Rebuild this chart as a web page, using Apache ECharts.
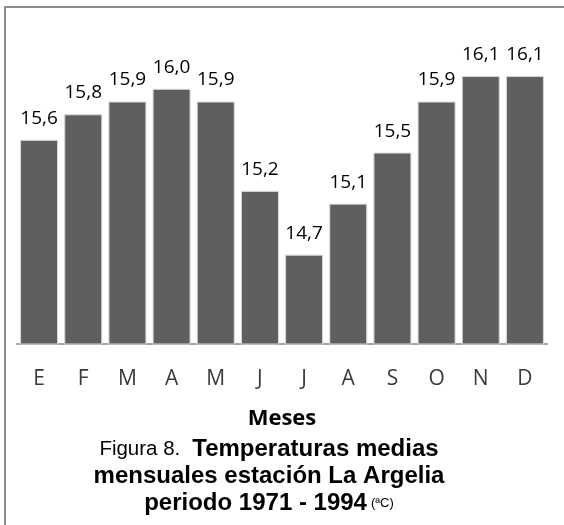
<!DOCTYPE html>
<html>
<head>
<meta charset="utf-8">
<script src="https://cdn.jsdelivr.net/npm/echarts@6/dist/echarts.min.js"></script>
<style>
  html, body { margin: 0; padding: 0; background: #ffffff; }
  #chart { width: 564px; height: 525px; }
</style>
</head>
<body>
<div id="chart"></div>
<script>
// Monthly mean temperatures, La Argelia station, 1971-1994
const months = ['E', 'F', 'M', 'A', 'M', 'J', 'J', 'A', 'S', 'O', 'N', 'D'];
const temperatures = [15.6, 15.8, 15.9, 16.0, 15.9, 15.2, 14.7, 15.1, 15.5, 15.9, 16.1, 16.1];
const axisName = 'Meses';
const figureLabel = 'Figura 8.';
const captionLine1 = 'Temperaturas medias';
const captionLine2 = 'mensuales estación La Argelia';
const captionLine3 = 'periodo 1971 - 1994';
const unitLabel = '(ªC)';

const captionFont = 'Liberation Sans, Arial, sans-serif';
const captionX = 269;

const chart = echarts.init(document.getElementById('chart'), null, { renderer: 'canvas' });

const option = {
  backgroundColor: '#ffffff',
  animation: false,
  grid: { left: 17, right: 17, top: 25, bottom: 181, containLabel: false },
  xAxis: {
    type: 'category',
    data: months,
    axisLine: { show: true, lineStyle: { color: '#a6a6a6', width: 2 } },
    axisTick: { show: false },
    axisLabel: {
      margin: 25,
      fontFamily: 'Open Sans',
      fontSize: 21,
      color: '#3a3a3a'
    }
  },
  yAxis: {
    type: 'value',
    min: 14,
    max: 16.5,
    show: false,
    splitLine: { show: false }
  },
  series: [{
    type: 'bar',
    data: temperatures,
    barCategoryGap: '14%',
    itemStyle: { color: '#5f5f5f', borderColor: '#d6d6d6', borderWidth: 1 },
    label: {
      show: true,
      position: 'top',
      distance: 12,
      fontFamily: 'Open Sans',
      fontSize: 19,
      color: '#000000',
      formatter: p => p.value.toFixed(1).replace('.', ',')
    }
  }],
  graphic: [
    {
      type: 'rect',
      shape: { x: 5, y: 7, width: 600, height: 600 },
      style: { fill: 'none', stroke: '#8c8c8c', lineWidth: 2 },
      silent: true
    },
    {
      type: 'text',
      x: 282,
      y: 419,
      style: {
        text: axisName,
        align: 'center',
        verticalAlign: 'middle',
        fontFamily: 'Open Sans',
        fontWeight: 'bold',
        fontSize: 22,
        fill: '#000000'
      }
    },
    {
      type: 'text',
      x: captionX,
      y: 449.5,
      style: {
        text: '{s|' + figureLabel + '}{b|' + captionLine1 + '}',
        align: 'center',
        verticalAlign: 'middle',
        fill: '#000000',
        rich: {
          s: { fontFamily: captionFont, fontSize: 20.5, padding: [0, 12, 0, 0] },
          b: { fontFamily: captionFont, fontWeight: 'bold', fontSize: 24 }
        }
      }
    },
    {
      type: 'text',
      x: captionX,
      y: 476.5,
      style: {
        text: captionLine2,
        align: 'center',
        verticalAlign: 'middle',
        fontFamily: captionFont,
        fontWeight: 'bold',
        fontSize: 24,
        fill: '#000000'
      }
    },
    {
      type: 'text',
      x: captionX,
      y: 503.5,
      style: {
        text: '{b|' + captionLine3 + '}{c|' + unitLabel + '}',
        align: 'center',
        verticalAlign: 'middle',
        fill: '#000000',
        rich: {
          b: { fontFamily: captionFont, fontWeight: 'bold', fontSize: 24, padding: [0, 4, 0, 0] },
          c: { fontFamily: captionFont, fontSize: 13 }
        }
      }
    }
  ]
};

chart.setOption(option);
</script>
</body>
</html>
